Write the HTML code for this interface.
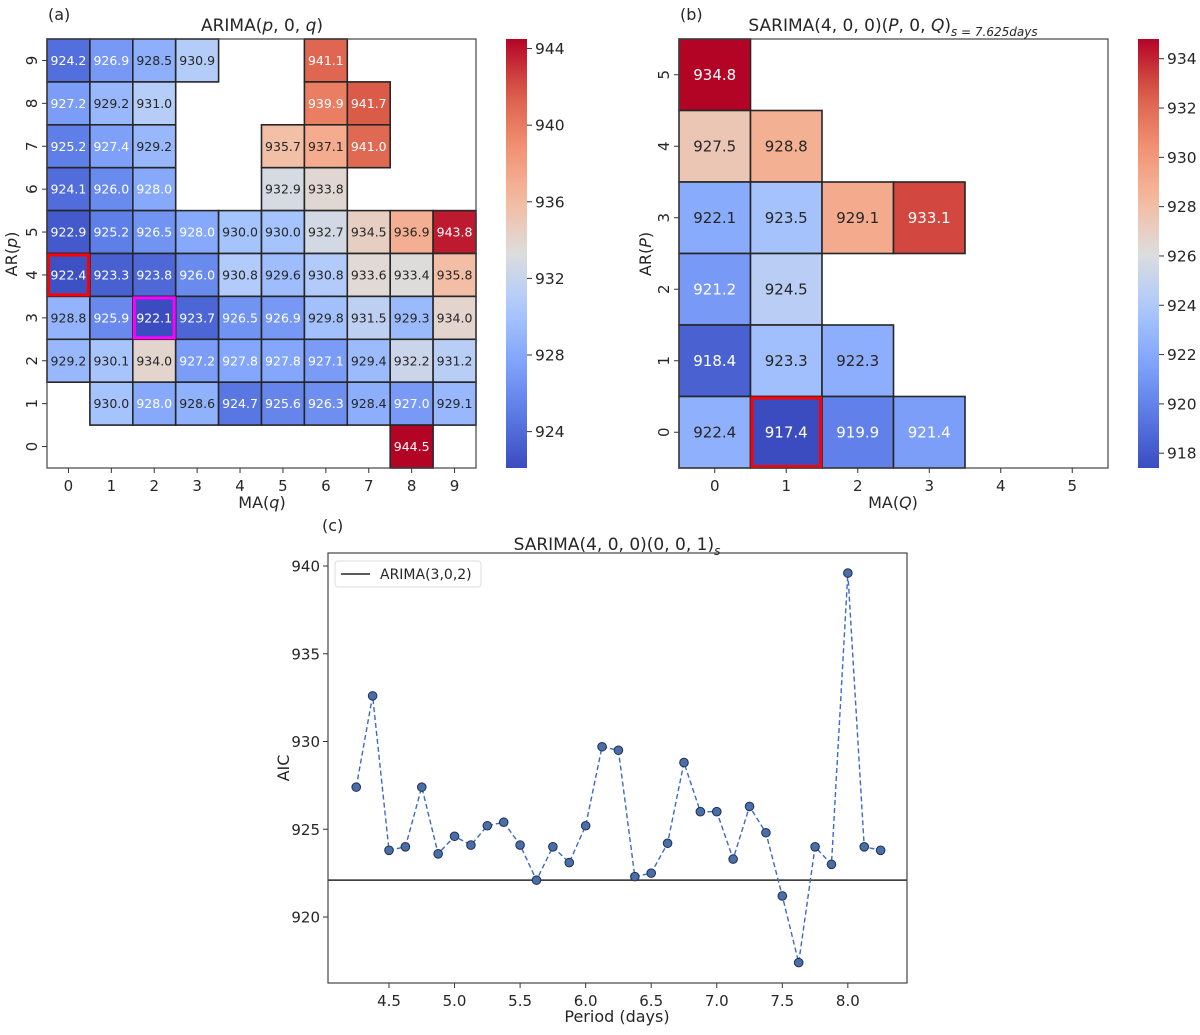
<!DOCTYPE html>
<html><head><meta charset="utf-8"><style>
body{margin:0;background:#fff}
svg text{font-family:"DejaVu Sans","Liberation Sans",sans-serif;fill:#262626}
</style></head><body>
<svg id="fig" width="1200" height="1030" xmlns="http://www.w3.org/2000/svg"></svg>
<script>
// ---- Panel (a) data: rows p=9..0, cols q=0..9 ----
const aRowLabels=[9,8,7,6,5,4,3,2,1,0];
const aColLabels=[0,1,2,3,4,5,6,7,8,9];
const aValues=[
[924.2,926.9,928.5,930.9,null,null,941.1,null,null,null],
[927.2,929.2,931.0,null,null,null,939.9,941.7,null,null],
[925.2,927.4,929.2,null,null,935.7,937.1,941.0,null,null],
[924.1,926.0,928.0,null,null,932.9,933.8,null,null,null],
[922.9,925.2,926.5,928.0,930.0,930.0,932.7,934.5,936.9,943.8],
[922.4,923.3,923.8,926.0,930.8,929.6,930.8,933.6,933.4,935.8],
[928.8,925.9,922.1,923.7,926.5,926.9,929.8,931.5,929.3,934.0],
[929.2,930.1,934.0,927.2,927.8,927.8,927.1,929.4,932.2,931.2],
[null,930.0,928.0,928.6,924.7,925.6,926.3,928.4,927.0,929.1],
[null,null,null,null,null,null,null,null,944.5,null]];
const aTicks=[924,928,932,936,940,944];
// ---- Panel (b) data: rows P=5..0, cols Q=0..5 ----
const bRowLabels=[5,4,3,2,1,0];
const bColLabels=[0,1,2,3,4,5];
const bValues=[
[934.8,null,null,null,null,null],
[927.5,928.8,null,null,null,null],
[922.1,923.5,929.1,933.1,null,null],
[921.2,924.5,null,null,null,null],
[918.4,923.3,922.3,null,null,null],
[922.4,917.4,919.9,921.4,null,null]];
const bTicks=[918,920,922,924,926,928,930,932,934];
// ---- Panel (c) data ----
const periods=[4.25,4.375,4.5,4.625,4.75,4.875,5.0,5.125,5.25,5.375,5.5,5.625,5.75,5.875,6.0,6.125,6.25,6.375,6.5,6.625,6.75,6.875,7.0,7.125,7.25,7.375,7.5,7.625,7.75,7.875,8.0,8.125,8.25];
const aic=[927.4,932.6,923.8,924.0,927.4,923.6,924.6,924.1,925.2,925.4,924.1,922.1,924.0,923.1,925.2,929.7,929.5,922.3,922.5,924.2,928.8,926.0,926.0,923.3,926.3,924.8,921.2,917.4,924.0,923.0,939.6,924.0,923.8];
const baseline=922.1;
const cXTicks=[4.5,5.0,5.5,6.0,6.5,7.0,7.5,8.0];
const cYTicks=[920,925,930,935,940];

const NS="http://www.w3.org/2000/svg";
const svg=document.getElementById('fig');
function mk(tag,attrs,parent,text){const e=document.createElementNS(NS,tag);for(const k in attrs)e.setAttribute(k,attrs[k]);if(text!==undefined)e.textContent=text;(parent||svg).appendChild(e);return e;}
const stops=[[0,[59,76,192]],[0.125,[91,122,230]],[0.25,[130,165,251]],[0.375,[173,201,253]],[0.5,[221,221,221]],[0.625,[245,186,158]],[0.75,[241,145,114]],[0.875,[218,91,72]],[1,[180,4,38]]];
function cmap(t){t=Math.max(0,Math.min(1,t));for(let i=1;i<stops.length;i++){if(t<=stops[i][0]){const[a,ca]=stops[i-1],[b,cb]=stops[i];const f=(t-a)/(b-a);return ca.map((v,j)=>Math.round(v+(cb[j]-v)*f));}}return stops[stops.length-1][1];}
function lum(c){const l=c.map(v=>{v/=255;return v<=0.03928?v/12.92:Math.pow((v+0.055)/1.055,2.4)});return 0.2126*l[0]+0.7152*l[1]+0.0722*l[2];}
function rgb(c){return `rgb(${c[0]},${c[1]},${c[2]})`;}

function heatmap(o){
  const g=mk('g',{},svg);
  const nr=o.vals.length,nc=o.vals[0].length,cw=(o.x1-o.x0)/nc,ch=(o.y1-o.y0)/nr;
  const norm=v=>(v-o.vmin)/(o.vmax-o.vmin);
  o.vals.forEach((row,i)=>row.forEach((v,j)=>{
    if(v===null)return;const c=cmap(norm(v));
    const r=mk('rect',{x:o.x0+j*cw,y:o.y0+i*ch,width:cw,height:ch,fill:rgb(c),stroke:'#262626','stroke-width':1.6},g);
    
    const t=mk('text',{x:o.x0+(j+.5)*cw,y:o.y0+(i+.5)*ch+o.fs*0.36,'text-anchor':'middle','font-size':o.fs,style:'fill:'+(lum(c)>0.408?'#262626':'#fff')},g,v.toFixed(1));
    
  }));
  o.hl.forEach(h=>{const r=mk('rect',{x:o.x0+h[1]*cw+1.5,y:o.y0+h[0]*ch+1.5,width:cw-3,height:ch-3,fill:'none',stroke:h[2],'stroke-width':3},g);});
  mk('rect',{x:o.x0,y:o.y0,width:o.x1-o.x0,height:o.y1-o.y0,fill:'none',stroke:'#444','stroke-width':1.2},g);
  o.cols.forEach((l,j)=>{const x=o.x0+(j+.5)*cw;mk('line',{x1:x,x2:x,y1:o.y1,y2:o.y1+5,stroke:'#333'},g);const t=mk('text',{x:x,y:o.y1+23,'text-anchor':'middle','font-size':15},g,l);});
  o.rows.forEach((l,i)=>{const y=o.y0+(i+.5)*ch;mk('line',{x1:o.x0-5,x2:o.x0,y1:y,y2:y,stroke:'#333'},g);const t=mk('text',{x:0,y:0,'text-anchor':'middle','font-size':15,transform:`translate(${o.x0-10},${y}) rotate(-90)`},g,l);});
  const cb=mk('g',{},svg);
  const gid=o.name+'-grad';const defs=mk('defs',{},cb);const lg=mk('linearGradient',{id:gid,x1:0,y1:1,x2:0,y2:0},defs);
  for(let k=0;k<=20;k++)mk('stop',{offset:k/20,'stop-color':rgb(cmap(k/20))},lg);
  mk('rect',{x:o.cbx,y:o.y0,width:21,height:o.y1-o.y0,fill:`url(#${gid})`},cb);
  o.ticks.forEach(v=>{const y=o.y1-norm(v)*(o.y1-o.y0);mk('line',{x1:o.cbx+21,x2:o.cbx+26,y1:y,y2:y,stroke:'#333'},cb);const t=mk('text',{x:o.cbx+29,y:y+5.5,'font-size':15.5},cb,v);});
}
heatmap({name:'heatmap-a',vals:aValues,rows:aRowLabels,cols:aColLabels,x0:47,x1:476,y0:39,y1:468,vmin:922.1,vmax:944.5,fs:12.5,cbx:506,ticks:aTicks,hl:[[5,0,'#ff0000'],[6,2,'#ff00ff']]});
heatmap({name:'heatmap-b',vals:bValues,rows:bRowLabels,cols:bColLabels,x0:679,x1:1108,y0:39,y1:468,vmin:917.4,vmax:934.8,fs:15,cbx:1138,ticks:bTicks,hl:[[5,1,'#ff0000']]});

function lbl(x,y,s,txt,name,extra){const t=mk('text',Object.assign({x:x,y:y,'font-size':s},extra||{}),svg);t.innerHTML=txt;return t;}
lbl(48,20,16,'(a)','panel-a-label');
lbl(262,31,17,'ARIMA(<tspan font-style="italic">p</tspan>, 0, <tspan font-style="italic">q</tspan>)','panel-a-title',{'text-anchor':'middle'});
lbl(262,508,16,'MA(<tspan font-style="italic">q</tspan>)','panel-a-x-title',{'text-anchor':'middle'});
lbl(0,0,16,'AR(<tspan font-style="italic">p</tspan>)','panel-a-y-title',{'text-anchor':'middle',transform:'translate(17,254) rotate(-90)'});
lbl(680,20,16,'(b)','panel-b-label');
lbl(893,31,17,'SARIMA(4, 0, 0)(<tspan font-style="italic">P</tspan>, 0, <tspan font-style="italic">Q</tspan>)<tspan font-size="12" dy="5" font-style="italic">s = 7.625days</tspan>','panel-b-title',{'text-anchor':'middle'});
lbl(893,508,16,'MA(<tspan font-style="italic">Q</tspan>)','panel-b-x-title',{'text-anchor':'middle'});
lbl(0,0,16,'AR(<tspan font-style="italic">P</tspan>)','panel-b-y-title',{'text-anchor':'middle',transform:'translate(651,254) rotate(-90)'});

// ---- Panel (c) ----
const X0=328,X1=907,Y0=553,Y1=983;
const xs=v=>389+(v-4.5)*131.1, ys=v=>917-(v-920)*17.55;
const gc=mk('g',{},svg);
lbl(322,531,16,'(c)','panel-c-label');
lbl(617,550,17,'SARIMA(4, 0, 0)(0, 0, 1)<tspan font-size="12" dy="5" font-style="italic">s</tspan>','panel-c-title',{'text-anchor':'middle'});
cXTicks.forEach(v=>{const x=xs(v);mk('line',{x1:x,x2:x,y1:Y1,y2:Y1+5,stroke:'#333'},gc);const t=mk('text',{x:x,y:Y1+23,'text-anchor':'middle','font-size':15},gc,v.toFixed(1));});
cYTicks.forEach(v=>{const y=ys(v);mk('line',{x1:X0-5,x2:X0,y1:y,y2:y,stroke:'#333'},gc);const t=mk('text',{x:X0-8,y:y+5.5,'text-anchor':'end','font-size':15},gc,v);});
lbl(617,1022,16,'Period (days)','panel-c-x-title',{'text-anchor':'middle'});
lbl(0,0,16,'AIC','panel-c-y-title',{'text-anchor':'middle',transform:'translate(289,768) rotate(-90)'});
const bl=mk('line',{x1:X0,x2:X1,y1:ys(baseline),y2:ys(baseline),stroke:'#262626','stroke-width':1.5},gc);
const pl=mk('polyline',{points:periods.map((p,i)=>xs(p)+','+ys(aic[i])).join(' '),fill:'none',stroke:'#3a6bc4','stroke-width':1.4,'stroke-dasharray':'5,3'},gc);
periods.forEach((p,i)=>{const c=mk('circle',{cx:xs(p),cy:ys(aic[i]),r:4.3,fill:'#4a6fa8',stroke:'#1f2f4f','stroke-width':1},gc);});
mk('rect',{x:X0,y:Y0,width:X1-X0,height:Y1-Y0,fill:'none',stroke:'#444','stroke-width':1.2},gc);
const lgd=mk('g',{},gc);
mk('rect',{x:335,y:561,width:146,height:26,rx:3,fill:'#fff',stroke:'#ddd'},lgd);
mk('line',{x1:341,x2:370,y1:574,y2:574,stroke:'#262626','stroke-width':1.5},lgd);
const lt=mk('text',{x:380,y:579,'font-size':14},lgd,'ARIMA(3,0,2)');
</script>
</body></html>
